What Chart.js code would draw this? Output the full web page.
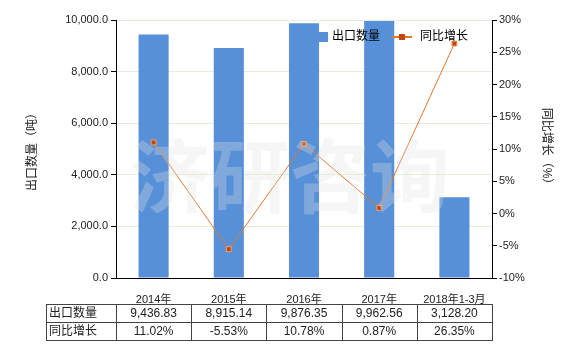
<!DOCTYPE html>
<html>
<head>
<meta charset="utf-8">
<script src="https://cdn.jsdelivr.net/npm/chart.js@4/dist/chart.umd.min.js"></script>
<style>
    html, body { margin: 0; padding: 0; background: #fff; }
    #wrap { width: 580px; height: 350px; }
</style>
</head>
<body>
<div id="wrap"><canvas id="exportChart" width="580" height="350"></canvas></div>
<script>
// podaci sa slike
const categories = ['2014年', '2015年', '2016年', '2017年', '2018年1-3月'];
const exportQty = [9436.83, 8915.14, 9876.35, 9962.56, 3128.20];
const yoyGrowth = [11.02, -5.53, 10.78, 0.87, 26.35];
const qtyTicks = [0, 2000, 4000, 6000, 8000, 10000];
const growthTicks = [-10, -5, 0, 5, 10, 15, 20, 25, 30];

const barColor = '#5690D8';
const lineColor = '#E0782E';
const pointColor = '#C0470F';
const FONT = '"Liberation Sans", "Noto Sans CJK SC", sans-serif';

document.addEventListener('DOMContentLoaded', function () {

    function fmtQty(v) {
        return Number(v).toLocaleString('en-US', { minimumFractionDigits: 2, maximumFractionDigits: 2 });
    }

    // legenda unutar grafika (gore desno)
    const legendPlugin = {
        id: 'innerLegend',
        afterDatasetsDraw(chart) {
            const ctx = chart.ctx;
            const y = 37;
            ctx.save();
            ctx.fillStyle = barColor;
            ctx.fillRect(318, y - 5, 10, 10);
            ctx.font = '12px ' + FONT;
            ctx.fillStyle = '#000';
            ctx.textBaseline = 'middle';
            ctx.fillText('出口数量', 332, y);
            ctx.strokeStyle = lineColor;
            ctx.lineWidth = 2;
            ctx.beginPath();
            ctx.moveTo(392, y);
            ctx.lineTo(412, y);
            ctx.stroke();
            ctx.fillStyle = pointColor;
            ctx.fillRect(399, y - 3, 6, 6);
            ctx.fillStyle = '#000';
            ctx.fillText('同比增长', 420, y);
            ctx.restore();
        }
    };

    // vodeni zig
    const watermarkPlugin = {
        id: 'watermark',
        afterDatasetsDraw(chart) {
            const ctx = chart.ctx;
            const a = chart.chartArea;
            ctx.save();
            ctx.font = 'bold 80px "Noto Sans CJK SC", sans-serif';
            ctx.fillStyle = 'rgba(225,225,225,0.3)';
            ctx.textAlign = 'center';
            ctx.textBaseline = 'middle';
            ctx.fillText('济研咨询', (a.left + a.right) / 2 - 14, 176);
            ctx.restore();
        }
    };

    // tabela ispod grafika
    const tablePlugin = {
        id: 'dataTable',
        afterDraw(chart) {
            const ctx = chart.ctx;
            const x = chart.scales.x;
            const colW = (x.right - x.left) / categories.length;
            const left = 46, top = 304, rowH = 18;
            const right = x.right;
            const rows = [
                ['出口数量', exportQty.map(fmtQty)],
                ['同比增长', yoyGrowth.map(v => v.toFixed(2) + '%')]
            ];
            ctx.save();
            ctx.strokeStyle = '#444';
            ctx.lineWidth = 1;
            ctx.strokeRect(left + 0.5, top + 0.5, right - left, rowH * 2);
            ctx.beginPath();
            ctx.moveTo(left, top + rowH + 0.5);
            ctx.lineTo(right, top + rowH + 0.5);
            for (let i = 0; i < categories.length; i++) {
                const cx = Math.round(x.left + colW * i) + 0.5;
                ctx.moveTo(cx, top);
                ctx.lineTo(cx, top + rowH * 2);
            }
            ctx.stroke();
            ctx.font = '12px ' + FONT;
            ctx.fillStyle = '#222';
            ctx.textBaseline = 'middle';
            rows.forEach((r, ri) => {
                const cy = top + rowH * ri + rowH / 2 + 1;
                ctx.textAlign = 'left';
                ctx.fillText(r[0], left + 3, cy);
                ctx.textAlign = 'center';
                r[1].forEach((t, i) => {
                    ctx.fillText(t, x.getPixelForValue(i), cy);
                });
            });
            ctx.restore();
        }
    };

    new Chart(document.getElementById('exportChart'), {
        type: 'bar',
        data: {
            labels: categories,
            datasets: [
                {
                    type: 'line',
                    label: '同比增长',
                    data: yoyGrowth,
                    yAxisID: 'y2',
                    borderColor: lineColor,
                    borderWidth: 1,
                    pointStyle: 'rect',
                    pointRadius: 3.5,
                    pointBackgroundColor: pointColor,
                    pointBorderColor: '#F0A070',
                    pointBorderWidth: 1,
                    tension: 0,
                    order: 0
                },
                {
                    label: '出口数量',
                    data: exportQty,
                    yAxisID: 'y',
                    backgroundColor: barColor,
                    categoryPercentage: 0.4,
                    barPercentage: 1,
                    order: 1
                }
            ]
        },
        options: {
            responsive: false,
            animation: false,
            layout: { padding: { top: 20, left: 0, right: 0, bottom: 0 } },
            plugins: {
                legend: { display: false },
                tooltip: { enabled: false }
            },
            scales: {
                x: {
                    grid: { display: false },
                    border: { color: '#000', width: 1 },
                    ticks: { color: '#222', font: { size: 11, family: FONT }, padding: 7, maxRotation: 0, autoSkip: false },
                    afterFit(s) { s.height = 72; }
                },
                y: {
                    position: 'left',
                    min: 0,
                    max: 10000,
                    afterBuildTicks(s) { s.ticks = qtyTicks.map(v => ({ value: v })); },
                    grid: { color: '#ECECDD', tickColor: '#000', tickLength: 5 },
                    border: { color: '#000', width: 1 },
                    ticks: {
                        color: '#222',
                        font: { size: 11, family: FONT },
                        padding: 3,
                        callback: v => Number(v).toLocaleString('en-US', { minimumFractionDigits: 1, maximumFractionDigits: 1 })
                    },
                    title: { display: true, text: '出口数量（吨）', color: '#222', font: { size: 12, family: FONT }, padding: { top: 25, bottom: 0 } },
                    afterFit(s) { s.width = 116; }
                },
                y2: {
                    position: 'right',
                    min: -10,
                    max: 30,
                    afterBuildTicks(s) { s.ticks = growthTicks.map(v => ({ value: v })); },
                    grid: { drawOnChartArea: false, tickColor: '#000', tickLength: 5 },
                    border: { color: '#000', width: 1 },
                    ticks: { color: '#222', font: { size: 11, family: FONT }, padding: 2, callback: v => v + '%' },
                    title: { display: true, text: '同比增长（%）', color: '#222', font: { size: 12, family: FONT }, padding: { top: 26, bottom: 0 } },
                    afterFit(s) { s.width = 88; }
                }
            }
        },
        plugins: [watermarkPlugin, legendPlugin, tablePlugin]
    });
});
</script>
</body>
</html>
